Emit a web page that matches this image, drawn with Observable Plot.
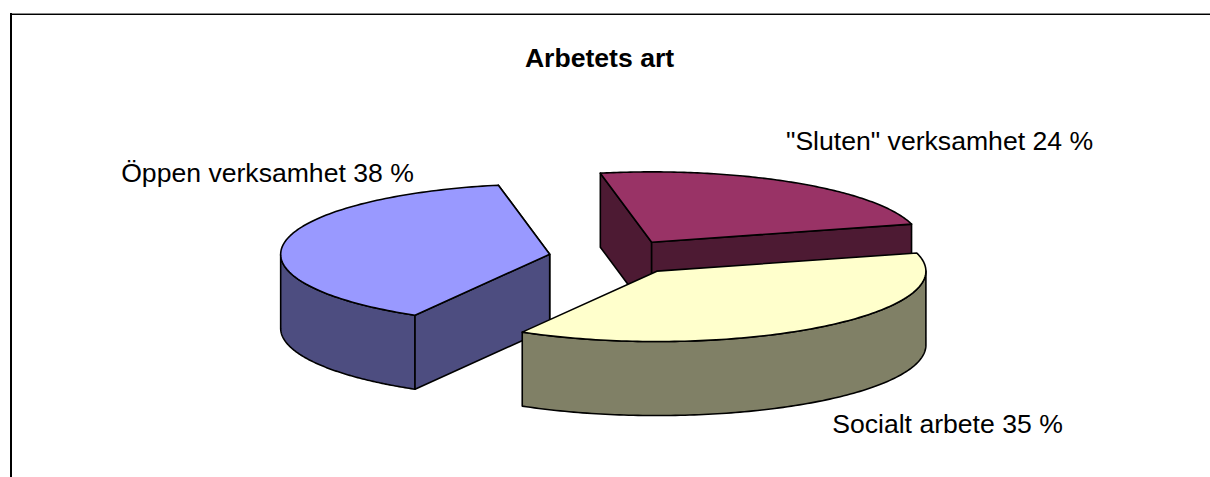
<!DOCTYPE html>
<html>
<head>
<meta charset="utf-8">
<style>html,body{margin:0;padding:0;background:#fff}svg{display:block}</style>
<script src="https://cdn.jsdelivr.net/npm/d3@7"></script>
<script src="https://cdn.jsdelivr.net/npm/@observablehq/plot@0.6"></script>
</head>
<body>
<div id="chart"></div>
<script>
const titleText = "Arbetets art";
const categories = ['"Sluten" verksamhet 24 %', "Socialt arbete 35 %", "Öppen verksamhet 38 %"];
const sliceShares = [23.9, 37.5, 38.6];
const topColors = ["#993366", "#ffffcc", "#9999ff"];
const sideColors = ["#4d1a33", "#808066", "#4d4d80"];

// Layout of the tilted pie and its text (pixels of the frame).
const W = 1210, H = 477;
const pie = {cx: 615.5, cy: 256.7, a: 269, b: 70.4, depth: 74, explode: 0.25, startDeg: -11};
const labelPos = [[939, 141], [947, 424], [267, 173]];
const titlePos = [599, 58];

const rad = Math.PI / 180;
const total = d3.sum(sliceShares);
let cursor = pie.startDeg;
const slices = sliceShares.map((s, i) => {
  const start = cursor, end = cursor + s / total * 360;
  cursor = end;
  const mid = (start + end) / 2;
  const ax = pie.cx + pie.explode * pie.a * Math.sin(mid * rad);
  const ay = pie.cy - pie.explode * pie.b * Math.cos(mid * rad);
  return {i, start, end, ax, ay};
});
const rim = (sl, deg, dz = 0) => ({
  x: sl.ax + pie.a * Math.sin(deg * rad),
  y: sl.ay - pie.b * Math.cos(deg * rad) + dz
});
const arc = (sl, from, to, dz = 0) =>
  d3.range(0, 121).map(k => rim(sl, from + (to - from) * k / 120, dz));
const apex = (sl, dz = 0) => ({x: sl.ax, y: sl.ay + dz});
const close = pts => [...pts, pts[0]];

// Radial wall between apex and a rim angle
const radialWall = (sl, deg) => close([apex(sl), rim(sl, deg), rim(sl, deg, pie.depth), apex(sl, pie.depth)]);
// Outer wall along the rim, between two angles
const outerWall = (sl, from, to) => close([...arc(sl, from, to), ...arc(sl, to, from, pie.depth)]);
const topFace = sl => close([apex(sl), ...arc(sl, sl.start, sl.end)]);

const face = (pts, fill) => Plot.line(pts, {
  x: "x", y: "y", fill, stroke: "#000", strokeWidth: 1.6, strokeLinejoin: "round"
});

const [burgundy, yellow, blue] = slices;
const marks = [
  // top frame rows and left frame
  Plot.ruleY([13], {x1: 10, x2: W, stroke: "#888", strokeWidth: 1}),
  Plot.ruleY([14], {x1: 10, x2: W, stroke: "#000", strokeWidth: 1}),
  Plot.ruleX([10.5], {y1: 13, y2: H, stroke: "#000", strokeWidth: 2}),
  // blue slice
  face(radialWall(blue, blue.end), sideColors[2]),
  face(outerWall(blue, 270, blue.start), sideColors[2]),
  face(radialWall(blue, blue.start), sideColors[2]),
  face(topFace(blue), topColors[2]),
  // burgundy slice
  face(radialWall(burgundy, burgundy.start), sideColors[0]),
  face(radialWall(burgundy, burgundy.end), sideColors[0]),
  face(topFace(burgundy), topColors[0]),
  // yellow slice
  face(outerWall(yellow, 90, yellow.end), sideColors[1]),
  face(topFace(yellow), topColors[1]),
  // text
  Plot.text(categories, {
    x: (d, i) => labelPos[i][0], y: (d, i) => labelPos[i][1], text: d => d,
    fontFamily: "Liberation Sans", fontSize: 26.6, fill: "#000"
  }),
  Plot.text([titleText], {
    x: () => titlePos[0], y: () => titlePos[1], text: d => d,
    fontFamily: "Liberation Sans", fontSize: 26.6, fontWeight: 700, fill: "#000"
  })
];

const chart = Plot.plot({
  width: W, height: H,
  margin: 0,
  style: {background: "#fff"},
  x: {type: "linear", domain: [0, W], range: [0, W], axis: null},
  y: {type: "linear", domain: [0, H], range: [0, H], axis: null},
  marks
});
document.getElementById("chart").appendChild(chart);
</script>
</body>
</html>
